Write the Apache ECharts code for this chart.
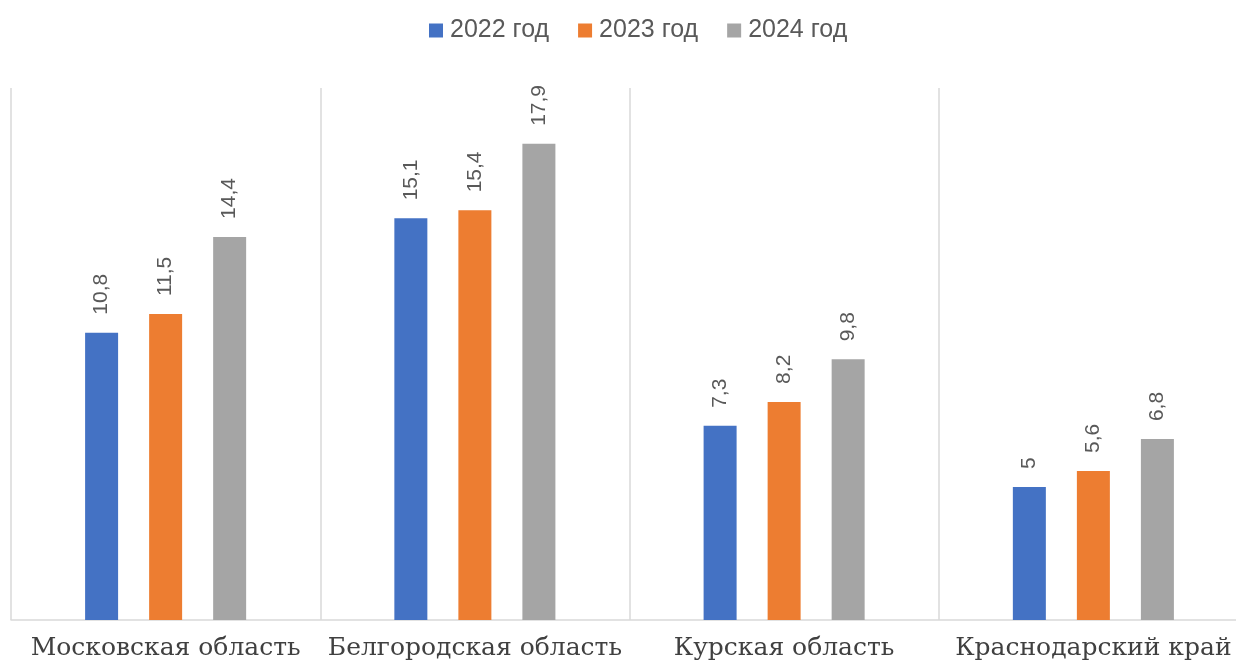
<!DOCTYPE html>
<html>
<head>
<meta charset="utf-8">
<script src="https://cdn.jsdelivr.net/npm/echarts@6/dist/echarts.min.js"></script>
<style>
  html, body { margin: 0; padding: 0; background: #fff; }
  #chart { width: 1236px; height: 660px; }
</style>
</head>
<body>
<div id="chart"></div>
<script>
// данные диаграммы
var regions = ["Московская область", "Белгородская область", "Курская область", "Краснодарский край"];
var years = ["2022 год", "2023 год", "2024 год"];
var values2022 = [10.8, 15.1, 7.3, 5];
var values2023 = [11.5, 15.4, 8.2, 5.6];
var values2024 = [14.4, 17.9, 9.8, 6.8];
var colors = ["#4472C4", "#ED7D31", "#A5A5A5"];

(function () {
    var myChart = echarts.init(document.getElementById("chart"));

    function makeSeries(name, data) {
        return {
            name: name,
            type: "bar",
            barWidth: 33,
            barGap: "94%",
            data: data,
            label: {
                show: true,
                position: "top",
                rotate: 90,
                align: "left",
                verticalAlign: "middle",
                distance: 18,
                color: "#595959",
                fontSize: 21,
                fontFamily: "Liberation Sans",
                formatter: function (p) {
                    return String(p.value).replace(".", ",");
                }
            }
        };
    }

    var option = {
        animation: false,
        color: colors,
        legend: {
            top: 13,
            left: 424,
            itemWidth: 14,
            itemHeight: 14,
            itemGap: 29,
            icon: "rect",
            textStyle: {
                color: "#595959",
                fontSize: 25,
                fontFamily: "Liberation Sans",
                padding: [0, 0, 0, 2]
            },
            data: years
        },
        grid: {
            left: 11,
            width: 1237,
            top: 88,
            bottom: 40,
            outerBoundsMode: "none",
            containLabel: false
        },
        xAxis: {
            type: "category",
            data: regions,
            axisTick: { show: false },
            axisLine: { lineStyle: { color: "#d9d9d9", width: 1.5 } },
            splitLine: { show: true, interval: 0, lineStyle: { color: "#d9d9d9", width: 1.5 } },
            axisLabel: {
                interval: 0,
                margin: 16,
                color: "#404040",
                fontSize: 25,
                fontFamily: "DejaVu Serif"
            }
        },
        yAxis: {
            type: "value",
            min: 0,
            max: 20,
            show: false,
            splitLine: { show: false }
        },
        series: [
            makeSeries(years[0], values2022),
            makeSeries(years[1], values2023),
            makeSeries(years[2], values2024)
        ]
    };
    myChart.setOption(option);
    window.addEventListener("resize", function () {
        myChart.resize();
    });
})();
</script>
</body>
</html>
